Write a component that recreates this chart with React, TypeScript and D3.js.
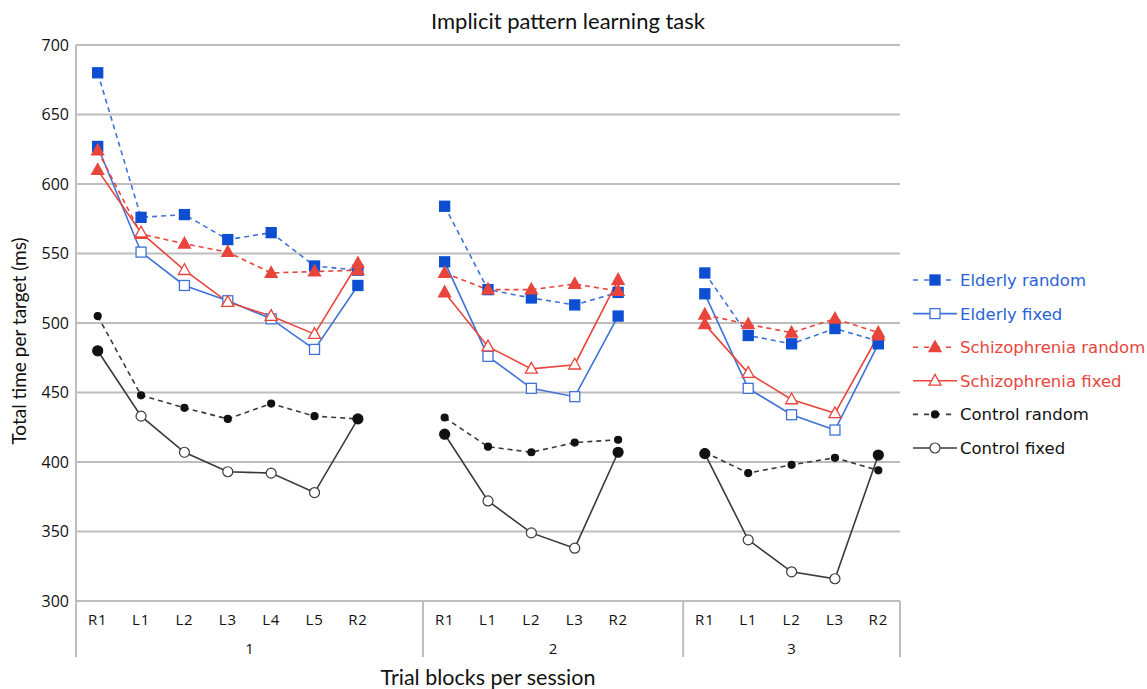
import React from "react";
import * as d3 from "d3";

const sessions = ["1", "2", "3"];
const sessionBlocks = [
  ["R1", "L1", "L2", "L3", "L4", "L5", "R2"],
  ["R1", "L1", "L2", "L3", "R2"],
  ["R1", "L1", "L2", "L3", "R2"],
];
const yTicks = [300, 350, 400, 450, 500, 550, 600, 650, 700];

const elderlyRandom = [
  [680, 576, 578, 560, 565, 541, 538],
  [584, 524, 518, 513, 522],
  [536, 491, 485, 496, 487],
];
const elderlyFixed = [
  [627, 551, 527, 516, 503, 481, 527],
  [544, 476, 453, 447, 505],
  [521, 453, 434, 423, 485],
];
const schizoRandom = [
  [624, 564, 557, 551, 536, 537, 538],
  [536, 524, 524, 528, 523],
  [506, 499, 493, 503, 493],
];
const schizoFixed = [
  [610, 565, 538, 515, 505, 492, 543],
  [522, 483, 467, 470, 531],
  [499, 464, 445, 435, 491],
];
const controlRandom = [
  [505, 448, 439, 431, 442, 433, 431],
  [432, 411, 407, 414, 416],
  [407, 392, 398, 403, 394],
];
const controlFixed = [
  [480, 433, 407, 393, 392, 378, 431],
  [420, 372, 349, 338, 407],
  [406, 344, 321, 316, 405],
];

const BLUE = "#0d4fd0";
const BLUE_L = "#3f72d8";
const RED = "#e8453c";
const BLACK = "#111";
const GRAY = "#3a3a3a";

type Series = {
  name: string;
  values: number[][];
  line: string;
  marker: string;
  shape: "square" | "triangle" | "circle";
  dashed: boolean;
  fixed: boolean;
  size: number;
  text: string;
};

const series: Series[] = [
  { name: "Elderly random", values: elderlyRandom, line: BLUE_L, marker: BLUE, shape: "square", dashed: true, fixed: false, size: 10, text: "#2a62d6" },
  { name: "Elderly fixed", values: elderlyFixed, line: BLUE_L, marker: BLUE, shape: "square", dashed: false, fixed: true, size: 10, text: "#2a62d6" },
  { name: "Schizophrenia random", values: schizoRandom, line: RED, marker: RED, shape: "triangle", dashed: true, fixed: false, size: 12, text: RED },
  { name: "Schizophrenia fixed", values: schizoFixed, line: RED, marker: RED, shape: "triangle", dashed: false, fixed: true, size: 12, text: RED },
  { name: "Control random", values: controlRandom, line: GRAY, marker: BLACK, shape: "circle", dashed: true, fixed: false, size: 7, text: BLACK },
  { name: "Control fixed", values: controlFixed, line: GRAY, marker: BLACK, shape: "circle", dashed: false, fixed: true, size: 10, text: BLACK },
];

function Marker({ s, x, y, filled }: { s: Series; x: number; y: number; filled: boolean }) {
  const size = s.size;
  const fill = filled ? s.marker : "#fff";
  const stroke = filled ? s.marker : s.line;
  if (s.shape === "square") {
    return <rect x={x - size / 2} y={y - size / 2} width={size} height={size} fill={fill} stroke={stroke} strokeWidth={1.3} />;
  }
  if (s.shape === "triangle") {
    const h = size * 0.9;
    const pts = `${x},${y - h * 0.6} ${x - size / 2},${y + h * 0.4} ${x + size / 2},${y + h * 0.4}`;
    return <polygon points={pts} fill={fill} stroke={stroke} strokeWidth={1.3} />;
  }
  return <circle cx={x} cy={y} r={size / 2} fill={fill} stroke={stroke} strokeWidth={1.2} />;
}

export default function App() {
  const W = 1147;
  const H = 689;
  const left = 76;
  const right = 900;
  const top = 45;
  const bottom = 601;

  const slots: string[] = [];
  sessionBlocks.forEach((bl, si) => {
    bl.forEach((b) => slots.push(`${sessions[si]}-${b}`));
    if (si < sessionBlocks.length - 1) slots.push(`${sessions[si]}-gap`);
  });
  const x = d3.scaleBand<string>().domain(slots).range([left, right]).padding(0);
  const bw = x.bandwidth();
  const cx = (si: number, b: string) => (x(`${sessions[si]}-${b}`) as number) + bw / 2;
  const y = d3.scaleLinear().domain([300, 700]).range([bottom, top]);

  const line = d3
    .line<[number, number]>()
    .x((d) => d[0])
    .y((d) => d[1]);

  const bounds: number[] = [left];
  sessionBlocks.forEach((bl, si) => {
    const lastKey = si < sessionBlocks.length - 1 ? `${sessions[si]}-gap` : `${sessions[si]}-${bl[bl.length - 1]}`;
    bounds.push((x(lastKey) as number) + bw);
  });

  const legendX = 913;
  const legendY0 = 280;
  const legendDy = 33.6;

  return (
    <svg width={W} height={H} style={{ display: "block", position: "absolute", left: 0, top: 0 }}>
      <rect width={W} height={H} fill="#fff" />
      <text x={568} y={29} textAnchor="middle" fontFamily="Lato, 'Open Sans', sans-serif" fontSize={22} fill="#111">
        Implicit pattern learning task
      </text>

      {yTicks.map((t) => (
        <line key={t} x1={left} x2={right} y1={y(t)} y2={y(t)} stroke="#bdbdbd" strokeWidth={2} />
      ))}
      <line x1={left} x2={left} y1={top} y2={657} stroke="#bdbdbd" strokeWidth={2} />
      {bounds.slice(1).map((b, i) => (
        <line key={i} x1={b} x2={b} y1={bottom} y2={657} stroke="#bdbdbd" strokeWidth={2} />
      ))}

      {yTicks.map((t) => (
        <text key={t} x={69} y={y(t) + 5.5} textAnchor="end" fontFamily="'Open Sans', sans-serif" fontSize={16} fill="#111">
          {t}
        </text>
      ))}

      {sessionBlocks.map((bl, si) =>
        bl.map((b) => (
          <text key={`${si}-${b}`} x={cx(si, b)} y={625} textAnchor="middle" fontFamily="'Open Sans', sans-serif" fontSize={15} letterSpacing={0.8} fill="#111">
            {b}
          </text>
        ))
      )}
      {sessions.map((s, si) => (
        <text key={s} x={(bounds[si] + bounds[si + 1]) / 2} y={654} textAnchor="middle" fontFamily="'Open Sans', sans-serif" fontSize={15} fill="#111">
          {s}
        </text>
      ))}

      <text
        transform={`translate(26,${(top + bottom) / 2 + 18}) rotate(-90)`}
        textAnchor="middle"
        fontFamily="Lato, 'Open Sans', sans-serif"
        fontSize={19}
        fill="#111"
      >
        Total time per target (ms)
      </text>
      <text x={488} y={685} textAnchor="middle" fontFamily="Lato, 'Open Sans', sans-serif" fontSize={21.5} fill="#111">
        Trial blocks per session
      </text>

      {series.map((s) =>
        s.values.map((vals, si) => {
          const pts: [number, number][] = vals.map((v, i) => [cx(si, sessionBlocks[si][i]), y(v)]);
          return (
            <path
              key={`${s.name}-${si}`}
              d={line(pts) as string}
              fill="none"
              stroke={s.line}
              strokeWidth={1.6}
              strokeDasharray={s.dashed ? "5,4" : undefined}
            />
          );
        })
      )}
      {series.map((s) =>
        s.values.map((vals, si) =>
          vals.map((v, i) => {
            const b = sessionBlocks[si][i];
            const filled = !s.fixed || b.startsWith("R");
            return <Marker key={`${s.name}-${si}-${i}`} s={s} x={cx(si, b)} y={y(v)} filled={filled} />;
          })
        )
      )}

      {series.map((s, i) => {
        const ly = legendY0 + i * legendDy;
        return (
          <g key={s.name}>
            <line
              x1={legendX}
              x2={legendX + 44}
              y1={ly}
              y2={ly}
              stroke={s.line}
              strokeWidth={1.6}
              strokeDasharray={s.dashed ? "5,6" : undefined}
            />
            <Marker s={s} x={legendX + 22} y={ly} filled={!s.fixed} />
            <text x={legendX + 47} y={ly + 6} fontFamily="'DejaVu Sans', sans-serif" fontSize={16.5} fill={s.text}>
              {s.name}
            </text>
          </g>
        );
      })}
    </svg>
  );
}
